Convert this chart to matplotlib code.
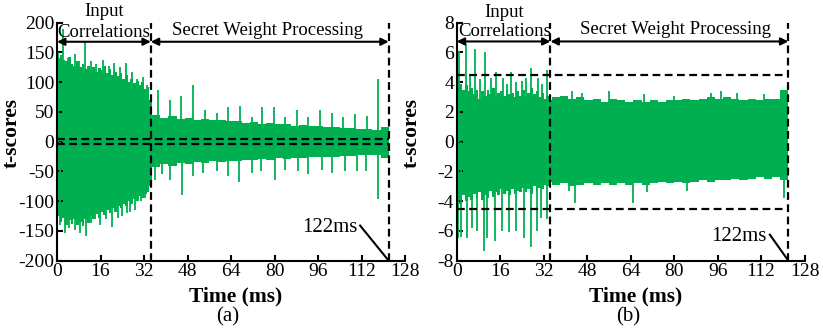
import matplotlib
matplotlib.use("Agg")
import matplotlib.pyplot as plt

plt.rcParams['font.family'] = ['Liberation Serif', 'DejaVu Serif']
plt.rcParams['axes.unicode_minus'] = False

GREEN = '#00B050'

# time grid of the band envelopes (ms): 1 ms steps in the input phase, 3 ms after
t_env = list(range(0, 35)) + list(range(35, 123, 3))

# ---- panel (a) ----
a_up = [140, 145, 138, 135, 142, 130, 128, 135, 125, 130, 122, 128, 120, 126, 118, 124, 120, 128,
        115, 122, 112, 118, 110, 115, 106, 112, 100, 105, 98, 102, 95, 100, 88, 92, 70,
        45, 40, 43, 38, 40, 36, 38, 36, 36, 34, 35, 32, 33, 30, 31, 29, 29, 27, 28, 26, 26,
        24, 25, 23, 23, 22, 22, 20, 25, 30]
a_lo = [-125, -135, -128, -140, -132, -138, -130, -140, -135, -142, -130, -136, -125, -130, -122,
        -128, -118, -124, -115, -120, -112, -118, -108, -112, -104, -108, -100, -104, -96, -100,
        -92, -95, -88, -85, -75,
        -42, -38, -40, -36, -37, -34, -36, -33, -34, -32, -33, -30, -31, -29, -30, -28, -29,
        -27, -28, -26, -26, -25, -25, -24, -24, -23, -23, -22, -28, -34]
a_spk_up_t = [0.5, 2.2, 4, 6.6, 8, 10.3, 12.5, 14.5, 17, 19, 21, 23, 25.5, 27.5, 29.5, 31.5, 33,
              37.3, 41.5, 45.6, 50.1, 54.4, 58.7, 63, 67.3, 71.6, 75.5, 79.8, 83.8, 88.1, 92.4,
              96.7, 101, 105.3, 109.6, 113.9, 117.9]
a_spk_up_v = [150, 190, 140, 148, 135, 168, 135, 130, 137, 128, 132, 125, 132, 118, 106, 108, 95,
              87, 70, 77, 95, 53, 48, 59, 60, 42, 58, 58, 42, 53, 41, 54, 49, 41, 46, 43, 105]
a_spk_lo_t = [1, 2.9, 4.5, 6.6, 8.5, 10.5, 12.5, 14, 15.8, 18, 20.1, 22.5, 24, 25.6, 27, 28.7, 31,
              32.5, 36, 38.5, 41.5, 45.8, 50.1, 53.8, 58.7, 63, 67, 71.6, 75.2, 80.1, 83.8, 88.7,
              92.4, 97.3, 101, 105.9, 110.2, 113.8, 118.1]
a_spk_lo_v = [-140, -153, -145, -148, -154, -159, -137, -130, -140, -130, -144, -128, -125, -120,
              -118, -114, -100, -95, -64, -55, -65, -89, -58, -53, -50, -58, -68, -53, -50, -64,
              -47, -50, -55, -47, -53, -50, -50, -50, -97]

# ---- panel (b) ----
b_up = [3.7, 3.9, 3.5, 3.8, 3.4, 3.6, 3.2, 3.5, 2.9, 3.4, 3.1, 3.5, 3.2, 3.6, 3.0, 3.3, 3.4, 3.1,
        3.5, 3.2, 3.3, 3.0, 3.4, 3.1, 3.5, 3.0, 3.3, 3.6, 3.2, 3.4, 3.0, 3.3, 2.9, 3.1, 2.8,
        3.0, 3.1, 2.9, 3.0, 2.8, 2.9, 2.7, 2.9, 2.8, 2.7, 2.8, 2.7, 2.8, 2.7, 2.8, 2.8, 2.9,
        2.8, 2.9, 3.0, 2.9, 3.0, 2.9, 2.8, 2.9, 2.8, 2.9, 2.9, 3.5, 3.6]
b_lo = [-3.8, -4.2, -3.6, -4.0, -3.7, -3.9, -3.5, -3.8, -3.4, -3.9, -3.6, -3.8, -3.3, -3.7, -3.4,
        -3.6, -3.2, -3.5, -3.3, -3.6, -3.2, -3.5, -3.3, -3.4, -3.1, -3.4, -3.2, -3.5, -3.0, -3.3,
        -3.1, -3.2, -2.9, -3.0, -2.7,
        -2.9, -2.8, -3.0, -2.9, -2.8, -2.9, -2.8, -2.9, -2.8, -2.9, -2.8, -2.9, -2.8, -2.7,
        -2.8, -2.7, -2.8, -2.7, -2.6, -2.7, -2.6, -2.6, -2.5, -2.6, -2.5, -2.4, -2.5, -2.4,
        -2.6, -3.3]
b_spk_up_t = [0.8, 3.5, 5, 6.6, 8.5, 10.6, 12.5, 14.3, 17.1, 18.5, 20.1, 22, 24.1, 25.5, 27.4,
              29.9, 31.5, 33.1, 42.5, 46, 56, 68.9, 80, 93.6, 97.4, 103.2, 113]
b_spk_up_v = [6.1, 6.6, 4.5, 6.2, 4.2, 6.0, 4.3, 4.7, 4.3, 3.9, 4.7, 4.0, 4.1, 4.3, 4.95, 4.3,
              3.9, 4.8, 3.4, 3.3, 3.4, 3.2, 3.1, 3.3, 3.4, 3.3, 3.2]
b_spk_lo_t = [0.5, 1.7, 3.9, 5.7, 7.6, 10, 11.3, 14, 16.8, 19.2, 21.7, 24.7, 27.4, 29.4, 31.1,
              33.3, 41.3, 43.4, 64.8, 70, 84.8, 120.3]
b_spk_lo_v = [-6.45, -6.4, -6.5, -5.8, -6.0, -7.35, -6.45, -6.7, -6.0, -6.1, -6.0, -6.45, -7.1,
              -6.0, -5.1, -5.2, -3.3, -4.1, -4.1, -3.4, -3.3, -3.8]

x_ticks = [0, 16, 32, 48, 64, 80, 96, 112, 128]
t_split = 34.5   # end of input correlations
t_end = 122      # end of secret weight processing


def px(x, y):
    return x / 823, 1 - y / 336


fig = plt.figure(figsize=(8.23, 3.36), dpi=100)
ax_a = fig.add_axes([0.0693, 0.2241, 0.4228, 0.7083])
ax_b = fig.add_axes([0.5549, 0.2241, 0.4228, 0.7083])

panels = [
    (ax_a, a_up, a_lo, a_spk_up_t, a_spk_up_v, a_spk_lo_t, a_spk_lo_v, 200, 50, 4.5,
     dict(inp=17.3, cor=183, inp_y=218.5, arr=168, sec_x=77.6, sec_y=187.7),
     (90, -145), (111.5, -141), 'a', 57),
    (ax_b, b_up, b_lo, b_spk_up_t, b_spk_up_v, b_spk_lo_t, b_spk_lo_v, 8, 2, 4.5,
     dict(inp=17.5, cor=7.42, inp_y=8.72, arr=6.74, sec_x=80.5, sec_y=7.53),
     (93.7, -6.37), (115.2, -6.25), 'b', 456.7),
]

for (ax, up, lo, su_t, su_v, sl_t, sl_v, ymax, ystep, thr, lab,
     txt_xy, line_xy, tag, left_px) in panels:
    ax.fill_between(t_env, lo, up, step='post', color=GREEN, lw=0)
    ax.vlines(su_t, 0, su_v, color=GREEN, lw=1.3)
    ax.vlines(sl_t, sl_v, 0, color=GREEN, lw=1.3)

    dash = dict(color='black', lw=1.6, ls=(0, (3.5, 2)))
    ax.axvline(t_split, **dash)
    ax.axvline(t_end, **dash)
    ax.hlines([thr, -thr], 0, t_end, **dash)

    ax.set_xlim(0, 128)
    ax.set_ylim(-ymax, ymax)
    ax.set_xticks(x_ticks)
    ax.set_yticks(range(-ymax, ymax + 1, ystep))
    for s in ['top', 'right']:
        ax.spines[s].set_visible(False)
    for s in ['left', 'bottom']:
        ax.spines[s].set_linewidth(1.5)
    ax.tick_params(direction='in', length=4, width=1.5, labelsize=14, pad=2)

    # phase arrows and labels
    arrow = dict(arrowstyle='<|-|>', color='black', lw=1.5, mutation_scale=11,
                 shrinkA=0, shrinkB=0)
    ax.annotate('', xy=(0, lab['arr']), xytext=(t_split, lab['arr']), arrowprops=arrow,
                annotation_clip=False)
    ax.annotate('', xy=(t_split, lab['arr']), xytext=(t_end, lab['arr']), arrowprops=arrow,
                annotation_clip=False)
    ax.text(lab['inp'], lab['inp_y'], 'Input', ha='center', va='center', fontsize=13.5,
            clip_on=False)
    ax.text(lab['inp'], lab['cor'], 'Correlations', ha='center', va='center', fontsize=13.5)
    ax.text(lab['sec_x'], lab['sec_y'], 'Secret Weight Processing', ha='center',
            va='center', fontsize=13.5)

    # 122ms callout
    ax.text(txt_xy[0], txt_xy[1], '122ms', ha='left', va='center', fontsize=15)
    ax.plot([line_xy[0], t_end], [line_xy[1], -ymax], color='black', lw=1.5, clip_on=False)

    fig.text(*px(left_px + 179, 296), 'Time (ms)', ha='center', va='center',
             fontsize=15.5, fontweight='bold')
    fig.text(*px(left_px + 171, 317), '(%s)' % tag, ha='center', va='center', fontsize=15)
    fig.text(*px(left_px - 45, 133), 't-scores', ha='center', va='center', rotation=90,
             fontsize=15.5, fontweight='bold')

fig.savefig('out.png', dpi=100)
